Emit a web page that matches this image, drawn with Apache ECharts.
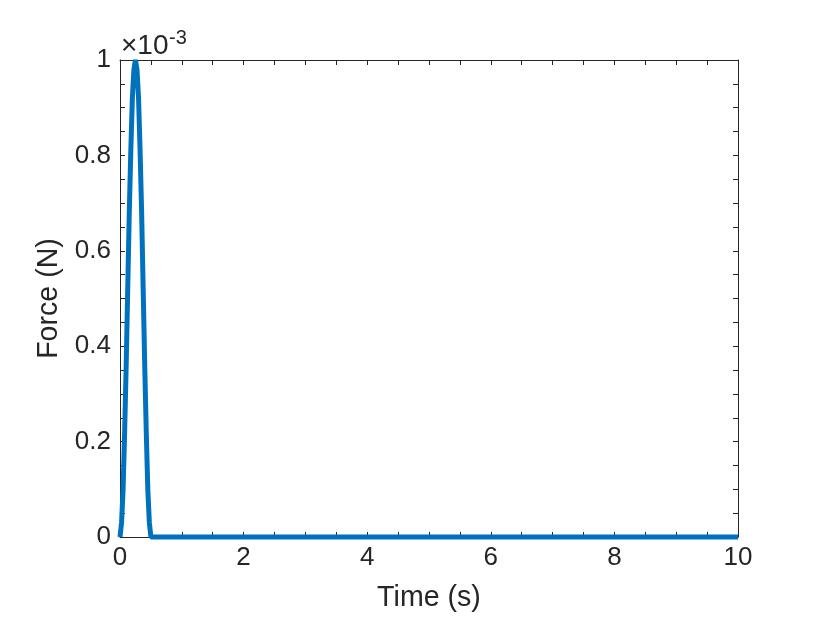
<!DOCTYPE html>
<html>
<head>
<meta charset="utf-8">
<script src="https://cdn.jsdelivr.net/npm/echarts@6/dist/echarts.min.js"></script>
<style>
  html, body { margin: 0; padding: 0; background: #fff; }
  #chart { width: 830px; height: 631px; }
</style>
</head>
<body>
<div id="chart"></div>
<script>
// time (s) and force (x 1e-3 N)
let times = [0, 0.025, 0.05, 0.075, 0.1, 0.125, 0.15, 0.175, 0.2, 0.225, 0.25,
  0.275, 0.3, 0.325, 0.35, 0.375, 0.4, 0.425, 0.45, 0.475, 0.5, 10];
let forces = [0, 0.03, 0.1, 0.22, 0.36, 0.52, 0.68, 0.81, 0.92, 0.98, 1.0,
  0.98, 0.92, 0.81, 0.68, 0.52, 0.36, 0.22, 0.1, 0.03, 0, 0];

let xTicks = [0, 2, 4, 6, 8, 10];
let yTicks = [0, 0.2, 0.4, 0.6, 0.8, 1];

let font = "'Liberation Sans', Arial, Helvetica, sans-serif";
let ink = "#262626";

let myChart = echarts.init(document.getElementById("chart"));

let baseAxis = {
  axisLine: { show: true, onZero: false, lineStyle: { color: ink, width: 1 } },
  axisTick: { show: true, inside: true, length: 5, lineStyle: { color: ink } },
  minorTick: { show: true, splitNumber: 4, length: 5, lineStyle: { color: ink } },
  splitLine: { show: false },
  minorSplitLine: { show: false }
};

myChart.setOption({
  animation: false,
  grid: { left: 120, right: 92, top: 60, bottom: 94 },
  xAxis: [
    Object.assign({}, baseAxis, {
      type: "value",
      min: xTicks[0],
      max: xTicks[xTicks.length - 1],
      interval: 2,
      position: "bottom",
      name: "Time (s)",
      nameLocation: "middle",
      nameGap: 47,
      nameTextStyle: { fontFamily: font, fontSize: 28.6, color: ink },
      axisLabel: { fontFamily: font, fontSize: 26, color: ink, margin: 8 }
    }),
    Object.assign({}, baseAxis, {
      type: "value",
      min: xTicks[0],
      max: xTicks[xTicks.length - 1],
      interval: 2,
      position: "top",
      axisLabel: { show: false }
    })
  ],
  yAxis: [
    Object.assign({}, baseAxis, {
      type: "value",
      min: yTicks[0],
      max: yTicks[yTicks.length - 1],
      interval: 0.2,
      position: "left",
      name: "Force (N)",
      nameLocation: "middle",
      nameGap: 53,
      nameTextStyle: { fontFamily: font, fontSize: 28.6, color: ink },
      axisLabel: {
        fontFamily: font, fontSize: 26, color: ink, margin: 9,
        formatter: v => (v === 0 || v === 1) ? String(v) : v.toFixed(1)
      }
    }),
    Object.assign({}, baseAxis, {
      type: "value",
      min: yTicks[0],
      max: yTicks[yTicks.length - 1],
      interval: 0.2,
      position: "right",
      axisLabel: { show: false }
    })
  ],
  graphic: [
    {
      type: "text",
      left: 121,
      top: 32,
      style: { text: "×10", fontFamily: font, fontSize: 28, fill: ink }
    },
    {
      type: "text",
      left: 169,
      top: 28,
      style: { text: "-3", fontFamily: font, fontSize: 20, fill: ink }
    }
  ],
  series: [
    {
      type: "line",
      xAxisIndex: 0,
      yAxisIndex: 0,
      data: times.map((t, i) => [t, forces[i]]),
      showSymbol: false,
      clip: false,
      lineStyle: { color: "#0072BD", width: 5 },
      itemStyle: { color: "#0072BD" }
    }
  ]
});
</script>
</body>
</html>
